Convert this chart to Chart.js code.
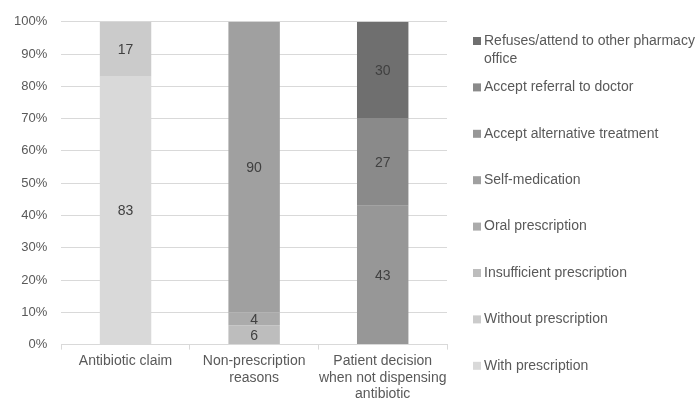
<!DOCTYPE html>
<html>
<head>
<meta charset="utf-8">
<script src="https://cdn.jsdelivr.net/npm/chart.js@4.4.1/dist/chart.umd.min.js"></script>
<style>
  html, body { margin: 0; padding: 0; background: #fff; }
  #wrap { width: 697px; height: 406px; position: relative; }
</style>
</head>
<body>
<div id="wrap"><canvas id="chart"></canvas></div>
<script>
const categories = [
  "Antibiotic claim",
  ["Non-prescription", "reasons"],
  ["Patient decision", "when not dispensing", "antibiotic"]
];
const seriesNames = [
  "With prescription",
  "Without prescription",
  "Insufficient prescription",
  "Oral prescription",
  "Self-medication",
  "Accept alternative treatment",
  "Accept referral to doctor",
  "Refuses/attend to other pharmacy office"
];
const withPrescription = [83, 0, 0];
const withoutPrescription = [17, 0, 0];
const insufficientPrescription = [0, 6, 0];
const oralPrescription = [0, 4, 0];
const selfMedication = [0, 90, 0];
const acceptAlternative = [0, 0, 43];
const acceptReferral = [0, 0, 27];
const refuses = [0, 0, 30];
const yTicks = [0, 10, 20, 30, 40, 50, 60, 70, 80, 90, 100];

const seriesValues = [withPrescription, withoutPrescription, insufficientPrescription,
  oralPrescription, selfMedication, acceptAlternative, acceptReferral, refuses];
const colors = ["#d9d9d9", "#cbcbcb", "#bdbdbd", "#ababab", "#a0a0a0", "#979797", "#8a8a8a", "#6f6f6f"];
// legend text lines (long one wraps like the original)
const legendLines = [
  ["With prescription"],
  ["Without prescription"],
  ["Insufficient prescription"],
  ["Oral prescription"],
  ["Self-medication"],
  ["Accept alternative treatment"],
  ["Accept referral to doctor"],
  ["Refuses/attend to other pharmacy", "office"]
];

const FONT = "'Liberation Sans', Arial, sans-serif";

// value labels inside the segments
const valueLabels = {
  id: "valueLabels",
  afterDatasetsDraw(chart) {
    const ctx = chart.ctx;
    ctx.save();
    ctx.font = "14px " + FONT;
    ctx.fillStyle = "#404040";
    ctx.textAlign = "center";
    ctx.textBaseline = "middle";
    chart.data.datasets.forEach((ds, i) => {
      chart.getDatasetMeta(i).data.forEach((bar, j) => {
        const v = ds.data[j];
        if (!v) return;
        const mid = (bar.y + bar.base) / 2;
        ctx.fillText(String(v), bar.x, mid + 1);
      });
    });
    ctx.restore();
  }
};

// legend on the right, top item = last series
const sideLegend = {
  id: "sideLegend",
  afterDraw(chart) {
    const ctx = chart.ctx;
    ctx.save();
    ctx.font = "14px " + FONT;
    ctx.textBaseline = "middle";
    const x = 473, top = 41, step = 46.4;
    for (let k = 0; k < seriesNames.length; k++) {
      const idx = seriesNames.length - 1 - k;
      const y = top + k * step;
      ctx.fillStyle = colors[idx];
      ctx.fillRect(x, y - 4, 8, 8);
      ctx.fillStyle = "#595959";
      legendLines[idx].forEach((line, n) => {
        ctx.fillText(line, x + 11, y + n * 18);
      });
    }
    ctx.restore();
  }
};

new Chart(document.getElementById("chart"), {
  type: "bar",
  data: {
    labels: categories,
    datasets: seriesNames.map((name, i) => ({
      label: name,
      data: seriesValues[i],
      backgroundColor: colors[i],
      borderWidth: 0,
      barPercentage: 0.4,
      categoryPercentage: 1
    }))
  },
  options: {
    responsive: true,
    maintainAspectRatio: false,
    animation: false,
    layout: { padding: { top: 19, right: 250, left: 0, bottom: 0 } },
    plugins: {
      legend: { display: false },
      tooltip: { enabled: false }
    },
    scales: {
      x: {
        stacked: true,
        offset: true,
        grid: {
          offset: true,
          drawOnChartArea: false,
          drawTicks: true,
          tickLength: 5,
          color: "#d9d9d9"
        },
        border: { display: true, color: "#d9d9d9" },
        ticks: {
          color: "#595959",
          font: { family: FONT, size: 14, lineHeight: 1.2 },
          padding: 3,
          maxRotation: 0,
          autoSkip: false
        }
      },
      y: {
        stacked: true,
        min: 0,
        max: 100,
        afterBuildTicks(axis) {
          axis.ticks = yTicks.map(v => ({ value: v }));
        },
        grid: {
          color: "#d9d9d9",
          drawTicks: false
        },
        border: { display: false },
        ticks: {
          color: "#595959",
          font: { family: FONT, size: 13 },
          padding: 14,
          callback: v => v + "%"
        }
      }
    }
  },
  plugins: [valueLabels, sideLegend]
});
</script>
</body>
</html>
